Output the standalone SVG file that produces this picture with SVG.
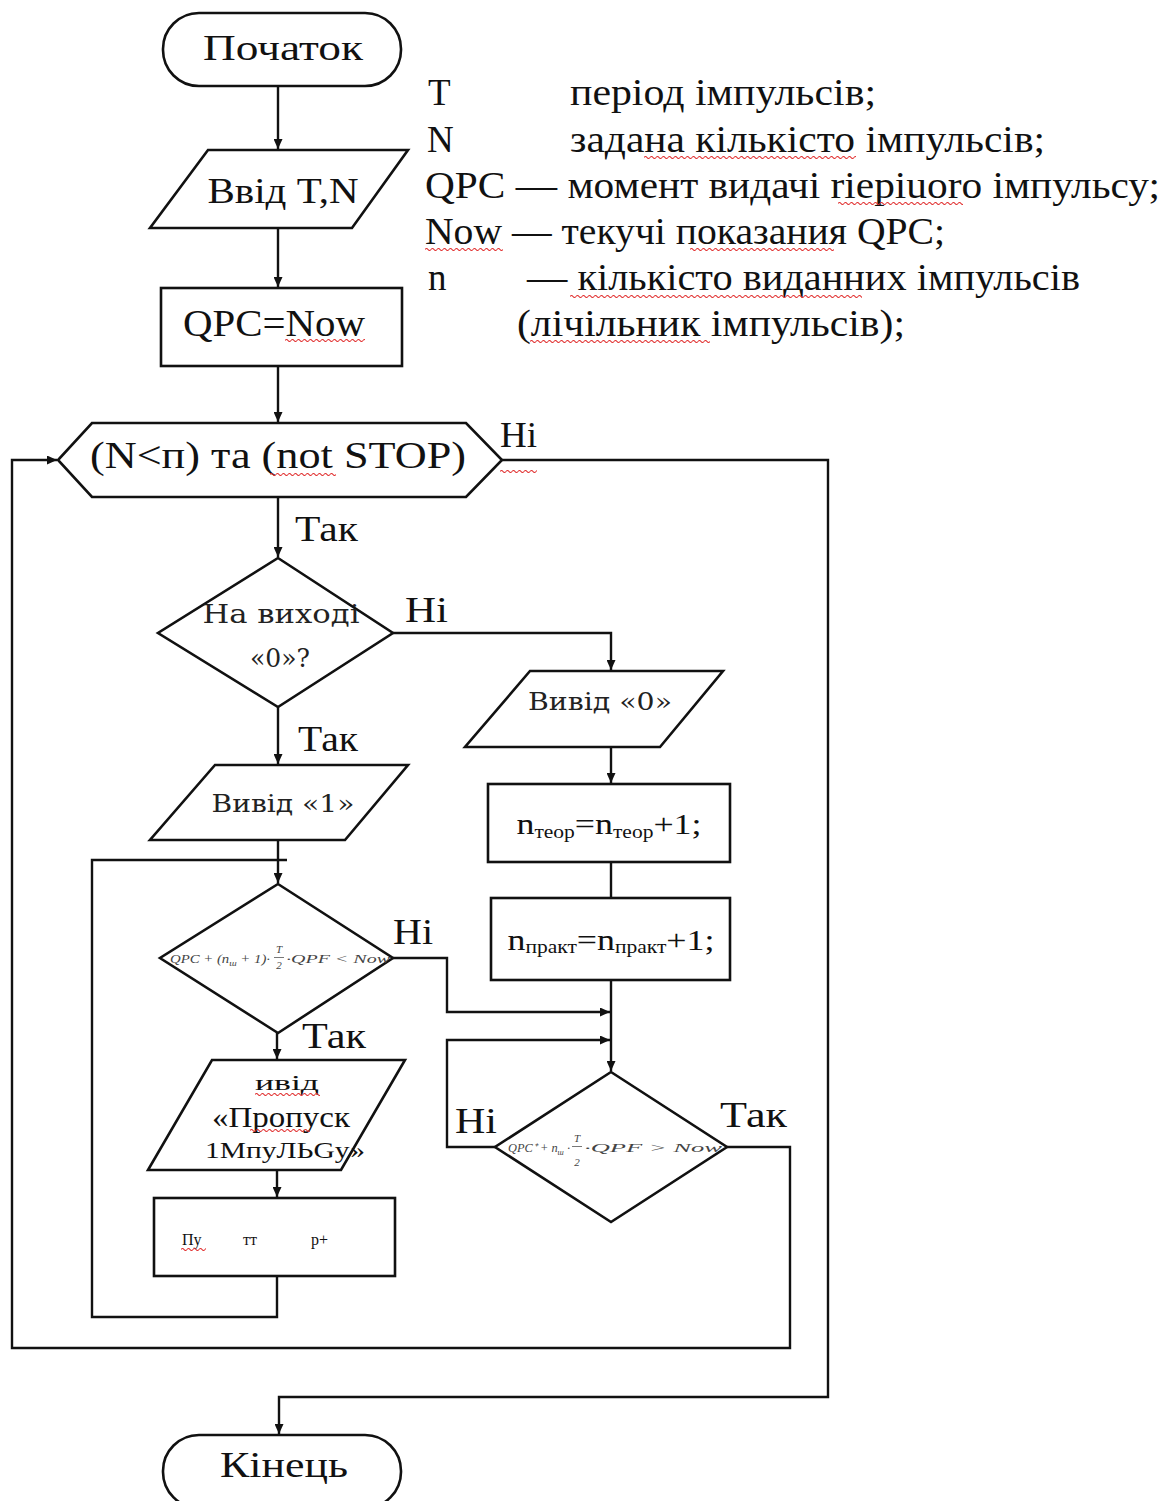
<svg xmlns="http://www.w3.org/2000/svg" width="1167" height="1501" viewBox="0 0 1167 1501">
<style>
.s{fill:#fff;stroke:#111;stroke-width:2.6}
.c{fill:none;stroke:#111;stroke-width:2.4}
.t{font-family:"Liberation Serif","Times New Roman",serif;fill:#111}
.b{font-family:"DejaVu Serif","Liberation Serif",serif;fill:#222}
.f{font-family:"Liberation Serif","Times New Roman",serif;font-style:italic;fill:#444}
.w{fill:url(#wavy)}
</style>
<defs>
<marker id="ar" markerUnits="userSpaceOnUse" markerWidth="10" markerHeight="9" refX="10" refY="4.5" orient="auto">
<path d="M0,0 L10,4.5 L0,9 z" fill="#111"/>
</marker>
<pattern id="wavy" patternUnits="userSpaceOnUse" width="6" height="5">
<path d="M0,2.5 Q1.5,0.5 3,2.5 T6,2.5" fill="none" stroke="#e02a2a" stroke-width="1.1"/>
</pattern>
</defs>
<rect width="1167" height="1501" fill="#fff"/>

<g id="connectors">
<path class="c" d="M278,87 V149" marker-end="url(#ar)"/>
<path class="c" d="M278,228 V287" marker-end="url(#ar)"/>
<path class="c" d="M278,366 V422" marker-end="url(#ar)"/>
<path class="c" d="M278,497 V557" marker-end="url(#ar)"/>
<path class="c" d="M393,633 H611 V670" marker-end="url(#ar)"/>
<path class="c" d="M611,747 V783" marker-end="url(#ar)"/>
<path class="c" d="M611,862 V898"/>
<path class="c" d="M611,980 V1071" marker-end="url(#ar)"/>
<path class="c" d="M278,707 V764" marker-end="url(#ar)"/>
<path class="c" d="M278,840 V883" marker-end="url(#ar)"/>
<path class="c" d="M277,1276 V1317 H92 V860 H287"/>
<path class="c" d="M393,958 H447 V1012 H610" marker-end="url(#ar)"/>
<path class="c" d="M495,1147 H447 V1040 H610" marker-end="url(#ar)"/>
<path class="c" d="M277,1033 V1059" marker-end="url(#ar)"/>
<path class="c" d="M277,1170 V1197" marker-end="url(#ar)"/>
<path class="c" d="M727,1147 H790 V1348 H12 V460 H57" marker-end="url(#ar)"/>
<path class="c" d="M502,460 H828 V1397 H279 V1434" marker-end="url(#ar)"/>
</g>

<g id="start">
<rect class="s" x="163" y="13" width="238" height="73" rx="36" ry="36"/>
<text class="t" x="283" y="60" font-size="36" text-anchor="middle" textLength="160" lengthAdjust="spacingAndGlyphs">Початок</text>
</g>

<g id="legend">
<text class="t" x="428" y="105" font-size="37">T</text>
<text class="t" x="570" y="105" font-size="37" textLength="306" lengthAdjust="spacingAndGlyphs">період імпульсів;</text>
<text class="t" x="427" y="152" font-size="37">N</text>
<text class="t" x="570" y="152" font-size="37" textLength="475" lengthAdjust="spacingAndGlyphs">задана кількісто імпульсів;</text>
<text class="t" x="425" y="198" font-size="37" textLength="735" lengthAdjust="spacingAndGlyphs">QPC — момент видачі riepiuoro імпульсу;</text>
<text class="t" x="425" y="244" font-size="37" textLength="520" lengthAdjust="spacingAndGlyphs">Now — текучі показания QPC;</text>
<text class="t" x="428" y="290" font-size="37">n</text>
<text class="t" x="527" y="290" font-size="37" textLength="553" lengthAdjust="spacingAndGlyphs">— кількісто виданних імпульсів</text>
<text class="t" x="517" y="336" font-size="37" textLength="388" lengthAdjust="spacingAndGlyphs">(лічільник імпульсів);</text>
<rect class="w" transform="translate(644,155)" width="212" height="5"/>
<rect class="w" transform="translate(838,201)" width="125" height="5"/>
<rect class="w" transform="translate(425,247)" width="78" height="5"/>
<rect class="w" transform="translate(690,247)" width="144" height="5"/>
<rect class="w" transform="translate(570,294)" width="292" height="5"/>
<rect class="w" transform="translate(530,339)" width="180" height="5"/>
</g>

<g id="input-tn">
<polygon class="s" points="208,150 408,150 352,228 150,228"/>
<text class="t" x="283" y="203" font-size="35" text-anchor="middle" textLength="151" lengthAdjust="spacingAndGlyphs">Ввід T,N</text>
</g>

<g id="init-qpc">
<rect class="s" x="161" y="288" width="241" height="78"/>
<text class="t" x="274" y="336" font-size="37" text-anchor="middle" textLength="182" lengthAdjust="spacingAndGlyphs">QPC=Now</text>
<rect class="w" transform="translate(285,338)" width="80" height="5"/>
</g>

<g id="loop-cond">
<polygon class="s" points="92,423 466,423 502,460 466,497 92,497 58,460"/>
<text class="t" x="278" y="468" font-size="38" text-anchor="middle" textLength="376" lengthAdjust="spacingAndGlyphs">(N&lt;п) та (not STOP)</text>
<rect class="w" transform="translate(270,472)" width="66" height="5"/>
<text class="t" x="500" y="447" font-size="35" textLength="37" lengthAdjust="spacingAndGlyphs">Hі</text>
<rect class="w" transform="translate(500,469)" width="37" height="5"/>
<text class="t" x="295" y="541" font-size="35" textLength="63" lengthAdjust="spacingAndGlyphs">Так</text>
</g>

<g id="dec-output0">
<polygon class="s" points="278,558 393,633 278,707 158,633"/>
<text class="b" x="281" y="623" font-size="26" text-anchor="middle" textLength="157" lengthAdjust="spacingAndGlyphs">На виході</text>
<text class="b" x="280" y="667" font-size="26" text-anchor="middle" textLength="60" lengthAdjust="spacingAndGlyphs">«0»?</text>
<text class="t" x="405" y="622" font-size="35" textLength="43" lengthAdjust="spacingAndGlyphs">Ні</text>
<text class="t" x="298" y="751" font-size="35" textLength="60" lengthAdjust="spacingAndGlyphs">Так</text>
</g>

<g id="out0">
<polygon class="s" points="530,671 723,671 660,747 465,747"/>
<text class="b" x="600" y="710" font-size="25" text-anchor="middle" textLength="144" lengthAdjust="spacingAndGlyphs">Вивід «0»</text>
</g>

<g id="n-teor">
<rect class="s" x="488" y="784" width="242" height="78"/>
<text class="t" x="609" y="834" font-size="30" text-anchor="middle" textLength="185" lengthAdjust="spacingAndGlyphs">n<tspan font-size="18" dy="4">теор</tspan><tspan dy="-4">=n</tspan><tspan font-size="18" dy="4">теор</tspan><tspan dy="-4">+1;</tspan></text>
</g>

<g id="n-prakt">
<rect class="s" x="491" y="898" width="239" height="82"/>
<text class="t" x="611" y="950" font-size="30" text-anchor="middle" textLength="207" lengthAdjust="spacingAndGlyphs">n<tspan font-size="18" dy="3">практ</tspan><tspan dy="-3">=n</tspan><tspan font-size="18" dy="3">практ</tspan><tspan dy="-3">+1;</tspan></text>
</g>

<g id="out1">
<polygon class="s" points="215,765 408,765 345,840 150,840"/>
<text class="b" x="283" y="812" font-size="25" text-anchor="middle" textLength="143" lengthAdjust="spacingAndGlyphs">Вивід «1»</text>
</g>

<g id="dec-time1">
<polygon class="s" points="278,884 393,958 278,1033 160,958"/>
<text class="f" x="170" y="963" font-size="12" textLength="100" lengthAdjust="spacingAndGlyphs">QPC + (n<tspan font-size="8" dy="3">ш</tspan><tspan dy="-3"> + 1)·</tspan></text>
<text class="f" x="279" y="953" font-size="11" text-anchor="middle">T</text>
<path d="M274,957.5 H284" stroke="#555" stroke-width="0.8"/>
<text class="f" x="279" y="969" font-size="11" text-anchor="middle">2</text>
<text class="f" x="286" y="963" font-size="12" textLength="104" lengthAdjust="spacingAndGlyphs">·QPF &lt; Now</text>
<text class="t" x="393" y="944" font-size="35" textLength="40" lengthAdjust="spacingAndGlyphs">Ні</text>
<text class="t" x="302" y="1048" font-size="35" textLength="64" lengthAdjust="spacingAndGlyphs">Так</text>
</g>

<g id="out-skip">
<polygon class="s" points="212,1060 405,1060 341,1170 148,1170"/>
<text class="t" x="287" y="1090" font-size="22" text-anchor="middle" textLength="64" lengthAdjust="spacingAndGlyphs">ивід</text>
<rect class="w" transform="translate(255,1092)" width="65" height="5"/>
<text class="t" x="281" y="1127" font-size="29" text-anchor="middle" textLength="138" lengthAdjust="spacingAndGlyphs">«Пропуск</text>
<rect class="w" transform="translate(250,1128)" width="60" height="5"/>
<text class="t" x="285" y="1158" font-size="24" text-anchor="middle" textLength="160" lengthAdjust="spacingAndGlyphs">1МпуЛЬGу»</text>
</g>

<g id="counter-box">
<rect class="s" x="154" y="1198" width="241" height="78"/>
<text class="t" x="182" y="1245" font-size="16" fill="#333">Пу</text>
<rect class="w" transform="translate(181,1247)" width="25" height="5"/>
<text class="t" x="243" y="1245" font-size="16" fill="#333">тт</text>
<text class="t" x="311" y="1245" font-size="16" fill="#555">р+</text>
</g>

<g id="dec-time2">
<polygon class="s" points="611,1072 727,1147 611,1222 495,1147"/>
<text class="f" x="508" y="1152" font-size="12" textLength="62" lengthAdjust="spacingAndGlyphs">QPC⁺ + n<tspan font-size="8" dy="3">ш</tspan><tspan dy="-3"> ·</tspan></text>
<text class="f" x="577" y="1142" font-size="11" text-anchor="middle">T</text>
<path d="M572,1146.5 H582" stroke="#555" stroke-width="0.8"/>
<text class="f" x="577" y="1166" font-size="11" text-anchor="middle">2</text>
<text class="f" x="584" y="1152" font-size="12" textLength="138" lengthAdjust="spacingAndGlyphs">·QPF &gt; Now</text>
<text class="t" x="455" y="1133" font-size="35" textLength="42" lengthAdjust="spacingAndGlyphs">Ні</text>
<text class="t" x="720" y="1127" font-size="35" textLength="67" lengthAdjust="spacingAndGlyphs">Так</text>
</g>

<g id="end">
<rect class="s" x="163" y="1435" width="238" height="73" rx="36" ry="36"/>
<text class="t" x="284" y="1477" font-size="35" text-anchor="middle" textLength="128" lengthAdjust="spacingAndGlyphs">Кінець</text>
</g>
</svg>
